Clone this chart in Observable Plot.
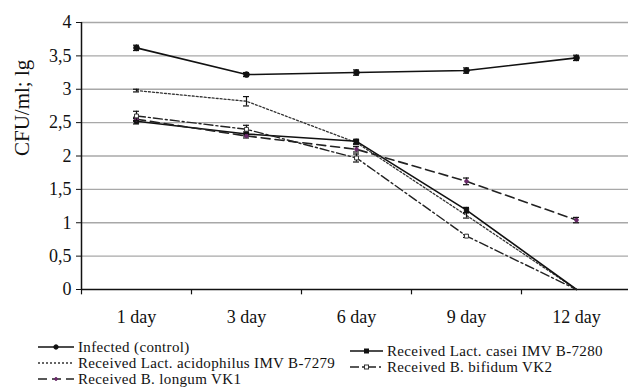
<!DOCTYPE html>
<html><head><meta charset="utf-8">
<script src="https://cdn.jsdelivr.net/npm/d3@7"></script>
<script src="https://cdn.jsdelivr.net/npm/@observablehq/plot@0.6"></script>
<style>
body{margin:0;background:#fff;}
#wrap{position:relative;width:628px;height:388px;overflow:hidden;font-family:"Liberation Serif",serif;}
#legend .item{position:absolute;display:flex;align-items:center;height:16px;font-family:"Liberation Serif",serif;font-size:15px;line-height:16px;color:#111;white-space:nowrap;letter-spacing:0.35px;}
#legend svg{margin-right:4px;}
</style></head>
<body><div id="wrap"><div id="chart"></div><div id="legend"></div></div>
<script>
const days = ["1 day","3 day","6 day","9 day","12 day"];
const yTicks = [0,0.5,1,1.5,2,2.5,3,3.5,4];
const seriesNames = ["Infected (control)","Received Lact. acidophilus IMV B-7279","Received Lact. casei IMV B-7280","Received B. longum VK1","Received B. bifidum VK2"];
const control   = [3.62,3.22,3.25,3.28,3.47];
const acidoph   = [2.98,2.82,2.20,1.11,0];
const casei     = [2.52,2.33,2.22,1.19,0];
const longum    = [2.55,2.30,2.10,1.62,1.04];
const bifidum   = [2.60,2.40,1.97,0.80,0];
const errControl = [0.04,0.03,0.04,0.04,0.04];
const errAcidoph = [0.02,0.07,0.03,0.04,0];
const errCasei   = [0.04,0.03,0.03,0.04,0];
const errLongum  = [0.03,0.03,0.04,0.05,0.04];
const errBifidum = [0.07,0.06,0.06,0.02,0];

const FONT = "Liberation Serif, serif";
const styles = [
  {dash:null, width:1.6, stroke:"#111", mfill:"#111", mstroke:"#111", r:2.8, sym:"circle"},
  {dash:"2,2", width:1.3, stroke:"#333", mfill:"#fff", mstroke:"#333", r:0, sym:"circle"},
  {dash:null, width:1.6, stroke:"#111", mfill:"#111", mstroke:"#111", r:2.4, sym:"square"},
  {dash:"9,5", width:1.6, stroke:"#222", mfill:"#6a2a6a", mstroke:"#6a2a6a", r:1.8, sym:"circle"},
  {dash:"9,3,2,3", width:1.4, stroke:"#222", mfill:"#fff", mstroke:"#333", r:2.2, sym:"square"}
];
const vals = [control, acidoph, casei, longum, bifidum];
const errs = [errControl, errAcidoph, errCasei, errLongum, errBifidum];
const data = [];
vals.forEach((arr, s) => arr.forEach((v, i) => data.push({series: seriesNames[s], s, day: days[i], v, e: errs[s][i]})));

const fmt = d => String(d).replace(".", ",");
const marks = [
  Plot.ruleY(yTicks.filter(d => d > 0), {stroke:"#a8a8a8", strokeWidth:1.3}),
  Plot.ruleY([0], {stroke:"#111", strokeWidth:1.5}),
  Plot.ruleX(days, {x: d => d, dx: -55, y1: 0, y2: -0.08, stroke:"#111", strokeWidth:1.2}),
  Plot.axisY({ticks: yTicks, tickFormat: fmt, tickSize: 5, tickPadding: 5, fontSize: 18, fontFamily: FONT, label: null, stroke:"#111", fill:"#111"}),
  Plot.ruleX([0], {x: () => days[0], dx: -55, y1: 0, y2: 4, stroke:"#111", strokeWidth:1.5}),
  Plot.axisX({tickSize: 0, tickPadding: 21, fontSize: 18, fontFamily: FONT, label: null, fill:"#111"}),
  Plot.text(["CFU/ml; lg"], {frameAnchor: "left", rotate: -90, dx: -59, fontSize: 21, fontFamily: FONT, fill: "#111"})
];
styles.forEach((st, s) => {
  const d = data.filter(r => r.s === s);
  marks.push(Plot.line(d, {x: "day", y: "v", stroke: st.stroke, strokeWidth: st.width, strokeDasharray: st.dash}));
  const de = d.filter(r => r.e > 0);
  marks.push(Plot.ruleX(de, {x: "day", y1: r => r.v - r.e, y2: r => r.v + r.e, stroke: "#111", strokeWidth: 1.2}));
  marks.push(Plot.tickY(de, {x: "day", y: r => r.v + r.e, stroke: "#111", strokeWidth: 1.2, insetLeft: 52, insetRight: 52}));
  marks.push(Plot.tickY(de, {x: "day", y: r => r.v - r.e, stroke: "#111", strokeWidth: 1.2, insetLeft: 52, insetRight: 52}));
  if (st.r > 0) marks.push(Plot.dot(d.filter(r => r.v > 0), {x: "day", y: "v", r: st.r, symbol: st.sym, fill: st.mfill, stroke: st.mstroke, strokeWidth: 1}));
});

const chart = Plot.plot({
  width: 628, height: 330,
  marginLeft: 81, marginRight: 0, marginTop: 22, marginBottom: 41,
  style: {fontFamily: FONT, color: "#111", background: "#fff", overflow: "visible"},
  x: {domain: days, range: [81, 631], padding: 0, axis: null},
  y: {domain: [0, 4], axis: null},
  marks
});
document.getElementById("chart").appendChild(chart);

const legendPos = [
  {left: 38, top: 339}, {left: 38, top: 355}, {left: 350, top: 343}, {left: 38, top: 371}, {left: 350, top: 359}
];
const leg = document.getElementById("legend");
styles.forEach((st, s) => {
  const div = document.createElement("div");
  div.className = "item";
  div.style.left = legendPos[s].left + "px";
  div.style.top = legendPos[s].top + "px";
  const w = s === 2 || s === 4 ? 33 : 36;
  const marker = st.r > 0 ? (st.sym === "square"
      ? `<rect x="${w/2-2}" y="4" width="4" height="4" fill="${st.mfill}" stroke="${st.mstroke}"/>`
      : `<circle cx="${w/2}" cy="6" r="${Math.max(st.r-0.6,1.4)}" fill="${st.mfill}" stroke="${st.mstroke}"/>`) : "";
  div.innerHTML = `<svg width="${w}" height="12"><line x1="0" x2="${w}" y1="6" y2="6" stroke="${st.stroke}" stroke-width="${st.width}" ${st.dash ? `stroke-dasharray="${st.dash}"` : ""}/>${marker}</svg><span>${seriesNames[s]}</span>`;
  leg.appendChild(div);
});
</script></body></html>
